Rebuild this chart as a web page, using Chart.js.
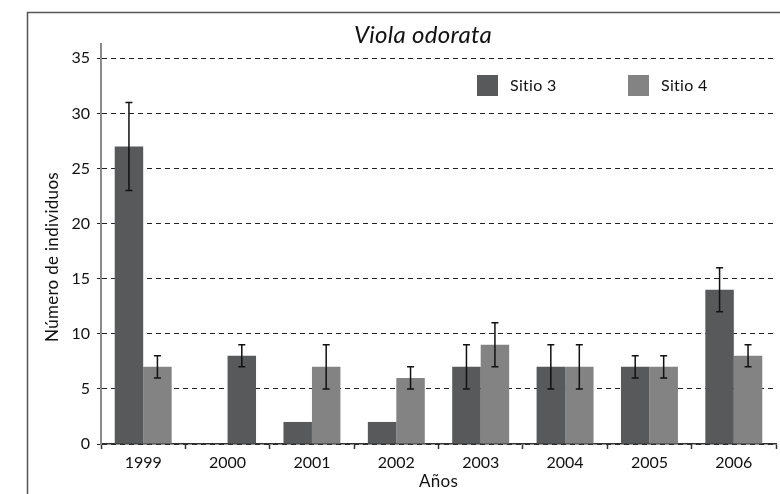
<!DOCTYPE html>
<html>
<head>
<meta charset="utf-8">
<script src="https://cdn.jsdelivr.net/npm/chart.js@4/dist/chart.umd.min.js"></script>
<style>
  body { margin: 0; background: #fff; }
</style>
</head>
<body>
<canvas id="chart" width="780" height="494"></canvas>
<script>
const years = ['1999', '2000', '2001', '2002', '2003', '2004', '2005', '2006'];
const sitio3 = [27, null, 2, 2, 7, 7, 7, 14];
const sitio3Err = [4, null, 0, 0, 2, 2, 1, 2];
const sitio4 = [7, 8, 7, 6, 9, 7, 7, 8];
const sitio4Err = [1, 1, 2, 1, 2, 2, 1, 1];
const yTicks = [0, 5, 10, 15, 20, 25, 30, 35];

const DARK = '#58595b';
const LIGHT = '#838383';
const FONT = 'Lato, "Open Sans", sans-serif';

// the 2000 bar is drawn dark in the original
const sitio4Colors = sitio4.map((v, i) => i === 1 ? DARK : LIGHT);

const errors = [sitio3Err, sitio4Err];

const framePlugin = {
    id: 'frame',
    beforeDraw(chart) {
        const ctx = chart.ctx;
        ctx.save();
        ctx.strokeStyle = '#555';
        ctx.lineWidth = 1.5;
        ctx.strokeRect(27.5, 12.5, 800, 600);
        ctx.restore();
    }
};

const extrasPlugin = {
    id: 'extras',
    afterDatasetsDraw(chart) {
        const ctx = chart.ctx;
        const y = chart.scales.y;
        ctx.save();
        ctx.strokeStyle = '#111';
        ctx.lineWidth = 1.5;
        chart.data.datasets.forEach((ds, i) => {
            const meta = chart.getDatasetMeta(i);
            ds.data.forEach((v, j) => {
                const e = errors[i][j];
                if (v == null || !e) return;
                const x = meta.data[j].x;
                const top = y.getPixelForValue(v + e);
                const bot = y.getPixelForValue(v - e);
                ctx.beginPath();
                ctx.moveTo(x, top); ctx.lineTo(x, bot);
                ctx.moveTo(x - 3.5, top); ctx.lineTo(x + 3.5, top);
                ctx.moveTo(x - 3.5, bot); ctx.lineTo(x + 3.5, bot);
                ctx.stroke();
            });
        });
        ctx.restore();
    },
    afterDraw(chart) {
        const ctx = chart.ctx;
        ctx.save();
        ctx.fillStyle = '#111';
        ctx.letterSpacing = '0.3px'; // keeps "ti" from turning into a ligature
        // title
        ctx.font = 'italic 24px ' + FONT;
        ctx.textAlign = 'center';
        ctx.textBaseline = 'middle';
        ctx.fillText('Viola odorata', 423, 35);
        // axis titles
        ctx.font = '17px ' + FONT;
        const area = chart.chartArea;
        ctx.fillText('Años', (area.left + area.right) / 2, 482);
        ctx.save();
        ctx.translate(53, 257);
        ctx.rotate(-Math.PI / 2);
        ctx.fillText('Número de individuos', 0, 0);
        ctx.restore();
        // legend
        ctx.font = '16px ' + FONT;
        const items = [['Sitio 3', DARK, 477], ['Sitio 4', LIGHT, 628]];
        ctx.textAlign = 'left';
        items.forEach(([label, color, x]) => {
            ctx.fillStyle = color;
            ctx.fillRect(x, 75, 21, 21);
            ctx.fillStyle = '#111';
            ctx.fillText(label, x + 33, 86);
        });
        ctx.restore();
    }
};

new Chart(document.getElementById('chart'), {
    type: 'bar',
    data: {
        labels: years,
        datasets: [
            { label: 'Sitio 3', data: sitio3, backgroundColor: DARK },
            { label: 'Sitio 4', data: sitio4, backgroundColor: sitio4Colors }
        ]
    },
    options: {
        responsive: false,
        animation: false,
        layout: { padding: { top: 44, right: 4, left: 0, bottom: 0 } },
        datasets: { bar: { categoryPercentage: 0.675, barPercentage: 1 } },
        plugins: {
            legend: { display: false },
            tooltip: { enabled: false }
        },
        scales: {
            x: {
                afterFit(scale) { scale.height = 50; },
                grid: {
                    drawOnChartArea: false,
                    drawTicks: true,
                    tickLength: 5,
                    tickColor: '#333',
                    tickWidth: 1.5
                },
                border: { color: '#333', width: 1.5 },
                ticks: { color: '#111', font: { family: FONT, size: 16 }, padding: 4 }
            },
            y: {
                min: 0,
                max: 36.3,
                afterFit(scale) { scale.width = 101; },
                afterBuildTicks(scale) {
                    scale.ticks = yTicks.map(v => ({ value: v }));
                },
                grid: {
                    color: '#222',
                    lineWidth: 1,
                    tickLength: 4,
                    tickColor: '#222',
                    tickBorderDash: [5, 4]
                },
                border: { color: '#8a8a8a', width: 2, dash: [5, 4] },
                ticks: { color: '#111', font: { family: FONT, size: 16 }, padding: 7 }
            }
        }
    },
    plugins: [framePlugin, extrasPlugin]
});
</script>
</body>
</html>
